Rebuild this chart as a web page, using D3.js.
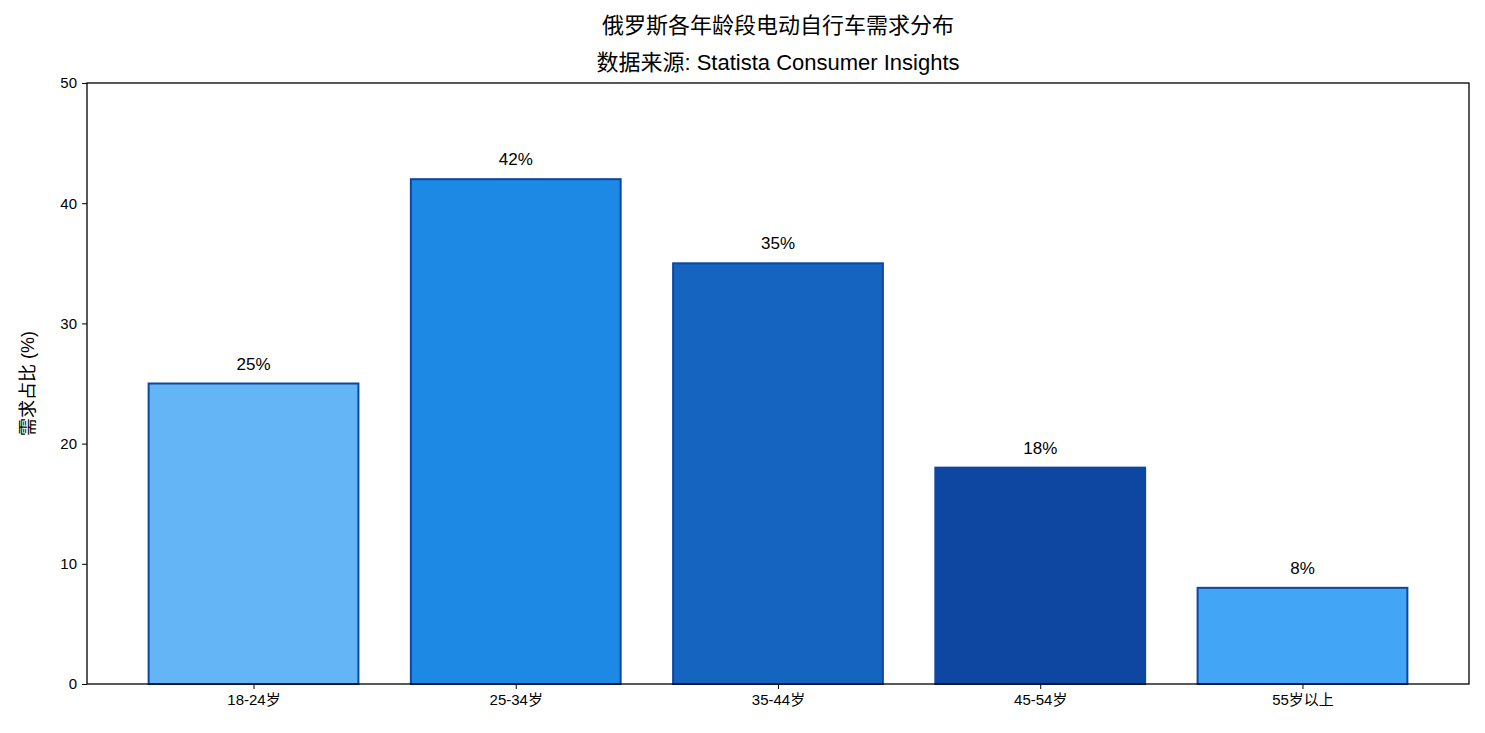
<!DOCTYPE html>
<html lang="zh">
<head>
<meta charset="UTF-8">
<script src="https://cdnjs.cloudflare.com/ajax/libs/d3/7.8.5/d3.min.js"></script>
<style>
  body { margin: 0; background: white; }
  text { font-family: "Liberation Sans", Arial, "Noto Sans CJK SC", sans-serif; }
</style>
</head>
<body>
<div id="chart"></div>
<script>
const categories = ["18-24岁", "25-34岁", "35-44岁", "45-54岁", "55岁以上"];
const values = [25, 42, 35, 18, 8];
const colors = ["#64B5F6", "#1E88E5", "#1565C0", "#0D47A1", "#42A5F5"];
const yTicks = [0, 10, 20, 30, 40, 50];

const width = 1485, height = 733;
const mLeft = 87, mRight = 1469, mTop = 83, mBottom = 684;

const svg = d3.select("#chart").append("svg")
    .attr("width", width).attr("height", height);

const x = d3.scaleLinear().domain([-0.635, categories.length - 1 + 0.635]).range([mLeft, mRight]);
const y = d3.scaleLinear().domain([0, 50]).range([mBottom, mTop]);
const barW = x(0.8) - x(0);

// bars
svg.selectAll(".bar").data(values).enter().append("rect")
    .attr("x", (d, i) => x(i) - barW / 2)
    .attr("y", d => y(d))
    .attr("width", barW)
    .attr("height", d => y(0) - y(d))
    .style("fill", (d, i) => colors[i])
    .style("stroke", "#0D47A1")
    .style("stroke-width", 2);

// value labels
svg.selectAll(".lbl").data(values).enter().append("text")
    .attr("x", (d, i) => x(i))
    .attr("y", d => y(d) - 14)
    .attr("text-anchor", "middle")
    .style("font-size", "17px")
    .text(d => d + "%");

// axes
svg.append("g").attr("transform", `translate(${mLeft},0)`)
    .call(d3.axisLeft(y).tickValues(yTicks).tickSize(5).tickPadding(5))
    .call(g => g.selectAll("text").style("font-size", "15px").style("fill", "#000"))
    .call(g => g.select(".domain").remove());
svg.append("g").attr("transform", `translate(0,${mBottom})`)
    .call(d3.axisBottom(x).tickValues(d3.range(categories.length)).tickFormat(i => categories[i]).tickSize(5).tickPadding(5))
    .call(g => g.selectAll("text").style("font-size", "15px").style("fill", "#000"))
    .call(g => g.select(".domain").remove());

svg.append("rect").attr("x", mLeft).attr("y", mTop)
    .attr("width", mRight - mLeft).attr("height", mBottom - mTop)
    .style("fill", "none").style("stroke", "#000").style("stroke-width", 1.3);

// titles
svg.append("text").attr("x", (mLeft + mRight) / 2).attr("y", 33)
    .attr("text-anchor", "middle").style("font-size", "22px")
    .text("俄罗斯各年龄段电动自行车需求分布");
svg.append("text").attr("x", (mLeft + mRight) / 2).attr("y", 70)
    .attr("text-anchor", "middle").style("font-size", "22px")
    .text("数据来源: Statista Consumer Insights");

svg.append("text")
    .attr("transform", `translate(34,${(mTop + mBottom) / 2}) rotate(-90)`)
    .attr("text-anchor", "middle").style("font-size", "18px")
    .text("需求占比 (%)");
</script>
</body>
</html>
